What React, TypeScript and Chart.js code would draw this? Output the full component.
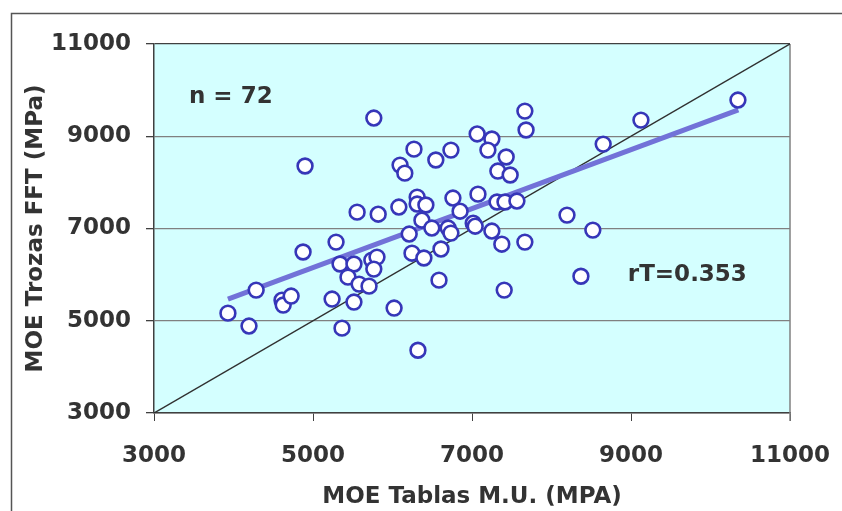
import React, { useEffect, useRef } from "react";
import { Chart, registerables } from "chart.js";

Chart.register(...registerables);

// MOE Tablas M.U. (x) vs MOE Trozas FFT (y)
const xValues = [
  3930, 4195, 4285, 4610, 4625, 4725, 4875, 4900, 5240, 5290, 5365, 5340, 5515, 5440, 5515, 5580,
  5705, 5740, 5805, 5765, 5555, 5820, 5765, 6020, 6080, 6095, 6155, 6270, 6310, 6310, 6420, 6370,
  6495, 6210, 6245, 6395, 6610, 6320, 6585, 6545, 6735, 6760, 6850, 6700, 6735, 7015, 7040, 7075,
  7065, 7250, 7200, 7430, 7325, 7480, 7315, 7415, 7565, 7250, 7375, 7665, 7405, 7665, 7680, 8195,
  8520, 8370, 8650, 9125, 10345,
];
const yValues = [
  5165, 4885, 5665, 5445, 5340, 5535, 6490, 8355, 5470, 6705, 4840, 6230, 6230, 5945, 5405, 5795,
  5750, 6315, 6380, 6120, 7355, 7310, 9395, 5275, 7465, 8375, 8200, 8720, 7680, 7530, 7510, 7180,
  7010, 6880, 6465, 6360, 6555, 4360, 5880, 8485, 8700, 7660, 7375, 7010, 6900, 7115, 7050, 7745,
  9050, 8940, 8700, 8550, 8245, 8160, 7575, 7575, 7595, 6945, 6660, 6705, 5665, 9545, 9135, 7290,
  6965, 5965, 8830, 9350, 9785,
];
const trendX = [3930, 10350];
const trendY = [5470, 9570];
const identityX = [3000, 11000];
const identityY = [3000, 11000];
const axisMin = 3000;
const axisMax = 11000;
const axisStep = 2000;
const xTitle = "MOE Tablas M.U. (MPA)";
const yTitle = "MOE Trozas FFT (MPa)";
const annoTexts = ["n = 72", "rT=0.353"];
const annoX = [3440, 8960];
const annoY = [9850, 5990];

const FONT = '"DejaVu Sans", Verdana, sans-serif';
const TEXT = "#333333";

const framePlugin = {
  id: "frame",
  beforeDraw(chart: any) {
    const { ctx, chartArea } = chart;
    ctx.save();
    ctx.fillStyle = "#d4ffff";
    ctx.fillRect(chartArea.left, chartArea.top, chartArea.right - chartArea.left, chartArea.bottom - chartArea.top);
    ctx.strokeStyle = "#555555";
    ctx.lineWidth = 1.5;
    ctx.strokeRect(11.5, 13.5, 1000, 1000);
    ctx.restore();
  },
  beforeDatasetsDraw(chart: any) {
    const { ctx, chartArea } = chart;
    ctx.save();
    ctx.strokeStyle = "#808080";
    ctx.lineWidth = 1.5;
    ctx.beginPath();
    ctx.moveTo(chartArea.right, chartArea.top);
    ctx.lineTo(chartArea.right, chartArea.bottom + 8);
    ctx.stroke();
    ctx.restore();
  },
  afterDraw(chart: any) {
    const { ctx, scales } = chart;
    ctx.save();
    ctx.font = `bold 23px ${FONT}`;
    ctx.fillStyle = TEXT;
    ctx.textAlign = "left";
    ctx.textBaseline = "middle";
    annoTexts.forEach((t, i) => {
      ctx.fillText(t, scales.x.getPixelForValue(annoX[i]), scales.y.getPixelForValue(annoY[i]));
    });
    ctx.restore();
  },
};

const plain = (v: any) => String(v);

export default function App() {
  const ref = useRef<HTMLCanvasElement | null>(null);
  useEffect(() => {
    if (!ref.current) return;
    const points = xValues.map((x, i) => ({ x, y: yValues[i] }));
    const trend = trendX.map((x, i) => ({ x, y: trendY[i] }));
    const ident = identityX.map((x, i) => ({ x, y: identityY[i] }));
    const chart = new Chart(ref.current, {
      type: "scatter",
      data: {
        datasets: [
          {
            data: points,
            order: 0,
            pointRadius: 7.4,
            pointBorderWidth: 2.6,
            pointBackgroundColor: "#ffffff",
            pointBorderColor: "#3636b8",
            showLine: false,
          },
          {
            data: trend,
            order: 1,
            showLine: true,
            borderColor: "#7272d8",
            borderWidth: 5,
            pointRadius: 0,
            borderCapStyle: "butt",
          },
          {
            data: ident,
            order: 2,
            showLine: true,
            borderColor: "#303030",
            borderWidth: 1.5,
            pointRadius: 0,
          },
        ],
      },
      plugins: [framePlugin],
      options: {
        animation: false,
        responsive: false,
        layout: { padding: { left: 0, top: 44, right: 52, bottom: 0 } },
        plugins: { legend: { display: false }, tooltip: { enabled: false } },
        scales: {
          x: {
            type: "linear",
            min: axisMin,
            max: axisMax,
            afterFit(scale: any) {
              scale.height = 98;
              scale.paddingLeft = 0;
              scale.paddingRight = 0;
            },
            ticks: {
              stepSize: axisStep,
              padding: 21,
              color: TEXT,
              callback: plain,
              font: { family: FONT, size: 23, weight: "bold" },
              maxRotation: 0,
            },
            grid: { drawOnChartArea: false, tickLength: 8, tickColor: "#404040", tickWidth: 1 },
            border: { color: "#404040", width: 1.5 },
            title: {
              display: true,
              text: xTitle,
              color: TEXT,
              font: { family: FONT, size: 23, weight: "bold" },
              padding: { top: 0, bottom: 0 },
            },
          },
          y: {
            type: "linear",
            min: axisMin,
            max: axisMax,
            afterFit(scale: any) {
              scale.width = 154;
              scale.paddingTop = 0;
              scale.paddingBottom = 0;
            },
            ticks: {
              stepSize: axisStep,
              padding: 15,
              color: TEXT,
              callback: plain,
              font: { family: FONT, size: 23, weight: "bold" },
            },
            grid: {
              drawOnChartArea: true,
              tickLength: 8,
              tickColor: "#404040",
              color: (c: any) => (c.tick && c.tick.value === axisMax ? "#404040" : "#808080"),
              lineWidth: 1.3,
            },
            border: { color: "#404040", width: 1.5 },
            title: {
              display: true,
              text: yTitle,
              color: TEXT,
              font: { family: FONT, size: 23, weight: "bold" },
              padding: { top: 22, bottom: 0 },
            },
          },
        },
      },
    });
    return () => chart.destroy();
  }, []);
  return (
    <div style={{ position: "absolute", left: 0, top: 0, width: 842, height: 511, background: "#ffffff" }}>
      <canvas ref={ref} width={842} height={511} />
    </div>
  );
}
